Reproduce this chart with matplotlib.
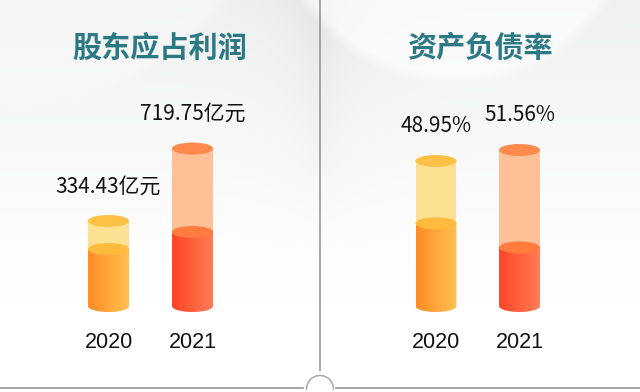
import numpy as np
import matplotlib.pyplot as plt
from matplotlib.patches import Rectangle, Ellipse, PathPatch
from matplotlib.path import Path
from matplotlib.colors import LinearSegmentedColormap

plt.rcParams['font.family'] = ['Noto Sans CJK SC', 'DejaVu Sans']

# data
years = ['2020', '2021']
profit = [334.43, 719.75]          # 亿元
debt_ratio = [48.95, 51.56]        # %
profit_labels = ['334.43亿元', '719.75亿元']
debt_labels = ['48.95%', '51.56%']
titles = ['股东应占利润', '资产负债率']

# decoration: how much of each cylinder is "filled"
fill_share_profit = [0.67, 0.47]
fill_share_debt = [0.57, 0.375]

# styles per year: light body, top cap, inner cap, gradient left, gradient right
styles = [
    dict(light='#fde193', cap='#ffc145', inner_cap='#ffbb3d', g0='#ff8c26', g1='#ffc152'),
    dict(light='#ffbf97', cap='#ff8a4d', inner_cap='#ff7b3e', g0='#ff4427', g1='#ff7d55'),
]
title_color = '#2b7984'

fig = plt.figure(figsize=(6.4, 3.92), dpi=100)

# background (pixel coords)
bg = fig.add_axes([0, 0, 1, 1])
yy, xx = np.mgrid[0:392, 0:640]
shade = 15 * np.clip(1 - yy / 300, 0, 1) ** 1.3
shade += 12 * np.exp(-np.abs(xx - 320) / 35) * np.clip(1 - yy / 260, 0, 1)
d = np.hypot(xx - 455, yy + 100)
shade *= 1 - 0.65 * np.clip((180 - d) / 12 + 0.5, 0, 1)
d2 = np.hypot(xx - 20, yy + 160)
shade *= 1 - 0.35 * np.clip((260 - d2) / 15 + 0.5, 0, 1)
img = np.clip(255 - shade, 0, 255)[..., None] * np.array([1.0, 1.0, 1.0]) - shade[..., None] * np.array([0.06, 0, 0])
bg.imshow(np.clip(img, 0, 255).astype(np.uint8), extent=(0, 640, 392, 0), aspect='auto')
bg.set_xlim(0, 640)
bg.set_ylim(392, 0)
bg.axis('off')

# divider
lc = '#8e8e8e'
bg.plot([320, 320], [0, 370], color=lc, lw=1.1)
bg.plot([0, 303], [387.5, 387.5], color=lc, lw=1.1)
bg.plot([336, 640], [387.5, 387.5], color=lc, lw=1.1)
t = np.linspace(0, np.pi, 60)
bg.plot(320 + 13.5 * np.cos(t), 389 - 13.5 * np.sin(t), color='#a8a8a8', lw=1.1)


def cylinder(ax, x, bottom, top, fill_top, st, w, eh):
    # light (empty) part
    ax.add_patch(Rectangle((x - w / 2, fill_top), w, top - fill_top,
                           facecolor=st['light'], edgecolor='none', zorder=2))
    # filled part with horizontal gradient, clipped to body shape
    th = np.linspace(np.pi, 2 * np.pi, 40)
    verts = list(zip(x + w / 2 * np.cos(th), bottom + eh / 2 * np.sin(th)))
    verts += [(x + w / 2, fill_top), (x - w / 2, fill_top), verts[0]]
    codes = [Path.MOVETO] + [Path.LINETO] * (len(verts) - 2) + [Path.CLOSEPOLY]
    clip = PathPatch(Path(verts, codes), facecolor='none', edgecolor='none')
    ax.add_patch(clip)
    cmap = LinearSegmentedColormap.from_list('g', [st['g0'], st['g1']])
    grad = np.linspace(0, 1, 64)[None, :]
    im = ax.imshow(grad, cmap=cmap, extent=(x - w / 2, x + w / 2, bottom - eh / 2, fill_top),
                   aspect='auto', zorder=3, origin='lower')
    im.set_clip_path(clip)
    ax.add_patch(Ellipse((x, fill_top), w, eh, facecolor=st['inner_cap'], edgecolor='none', zorder=4))
    ax.add_patch(Ellipse((x, top), w, eh, facecolor=st['cap'], edgecolor='none', zorder=4))


def panel(rect, values, labels, shares, xlim, ylim, base, w, eh, title):
    ax = fig.add_axes(rect)
    ax.patch.set_alpha(0)
    for i, v in enumerate(values):
        fill_top = base + (v - base) * shares[i]
        cylinder(ax, i, base, v, fill_top, styles[i], w, eh)
        ax.annotate(labels[i], (i, v), xytext=(0, 25), textcoords='offset points',
                    ha='center', va='center', fontsize=15, color='#111111')
        ax.annotate(years[i], (i, base), xytext=(0, -26), textcoords='offset points',
                    ha='center', va='center', fontsize=15.5, color='#111111',
                    family=['Liberation Sans', 'DejaVu Sans'])
    ax.set_xlim(*xlim)
    ax.set_ylim(*ylim)
    ax.axis('off')
    ax.text(0.5, 1 - 48 / 392, title, transform=ax.transAxes, ha='center', va='center',
            fontsize=21, fontweight='bold', color=title_color)
    return ax


panel([0, 0, 0.5, 1], profit, profit_labels, fill_share_profit,
      (-1.292, 2.518), (-575, 1510), -117.5, 0.49, 64, titles[0])
panel([0.5, 0, 0.5, 1], debt_ratio, debt_labels, fill_share_debt,
      (-1.389, 2.443), (-5.93, 87.2), 14.5, 0.49, 2.85, titles[1])

fig.savefig('out.png', dpi=100)
